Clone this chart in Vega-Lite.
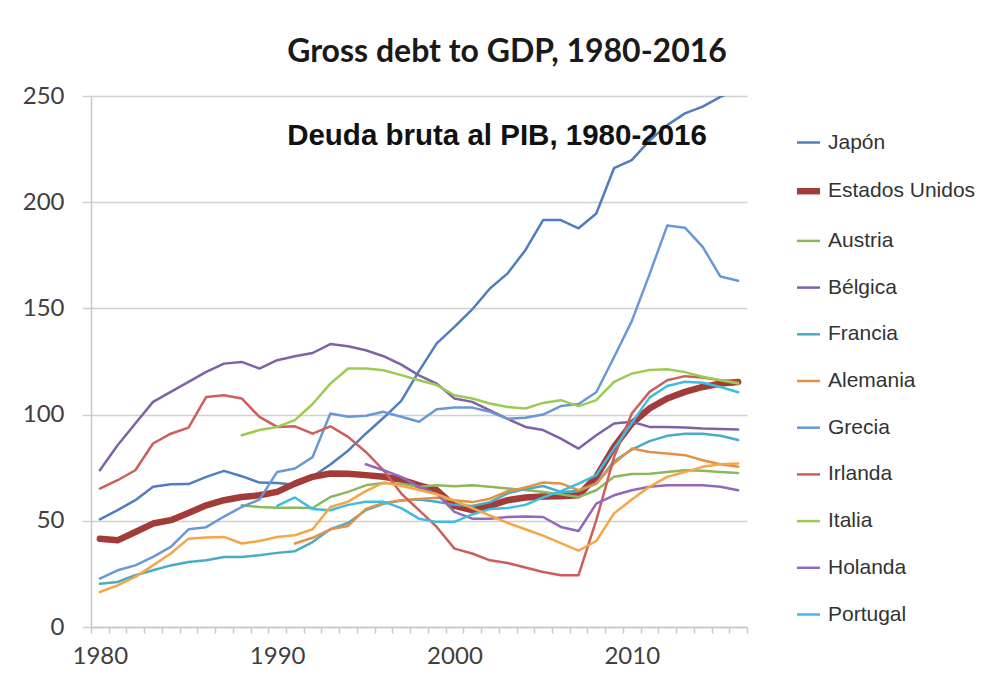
{
 "$schema": "https://vega.github.io/schema/vega-lite/v6.json",
 "width": 656,
 "height": 531,
 "padding": {"left": 22, "top": 36, "right": 0, "bottom": 0},
 "background": "white",
 "title": {"text": "Gross debt to GDP, 1980-2016", "anchor": "middle", "frame": "group", "dx": 88, "offset": -10, "baseline": "alphabetic", "font": "Lato", "fontSize": 32, "fontWeight": "bold", "color": "#1a1a1a"},
 "config": {"view": {"stroke": null}},
 "resolve": {"axis": {"x": "independent"}},
 "layer": [
  {
   "data": {"values": [
{"country":"Japón","year":1980,"debt":50.7},{"country":"Japón","year":1981,"debt":55},{"country":"Japón","year":1982,"debt":59.7},{"country":"Japón","year":1983,"debt":66},{"country":"Japón","year":1984,"debt":67.2},{"country":"Japón","year":1985,"debt":67.3},{"country":"Japón","year":1986,"debt":70.7},{"country":"Japón","year":1987,"debt":73.5},{"country":"Japón","year":1988,"debt":71},{"country":"Japón","year":1989,"debt":68},{"country":"Japón","year":1990,"debt":67.8},{"country":"Japón","year":1991,"debt":67},{"country":"Japón","year":1992,"debt":70.8},{"country":"Japón","year":1993,"debt":76.5},{"country":"Japón","year":1994,"debt":83},{"country":"Japón","year":1995,"debt":91},{"country":"Japón","year":1996,"debt":98.5},{"country":"Japón","year":1997,"debt":106.5},{"country":"Japón","year":1998,"debt":120.5},{"country":"Japón","year":1999,"debt":133.5},{"country":"Japón","year":2000,"debt":141.3},{"country":"Japón","year":2001,"debt":149.5},{"country":"Japón","year":2002,"debt":159.4},{"country":"Japón","year":2003,"debt":166.5},{"country":"Japón","year":2004,"debt":177.4},{"country":"Japón","year":2005,"debt":191.6},{"country":"Japón","year":2006,"debt":191.6},{"country":"Japón","year":2007,"debt":187.7},{"country":"Japón","year":2008,"debt":194.7},{"country":"Japón","year":2009,"debt":216},{"country":"Japón","year":2010,"debt":219.8},{"country":"Japón","year":2011,"debt":229},{"country":"Japón","year":2012,"debt":236.3},{"country":"Japón","year":2013,"debt":241.8},{"country":"Japón","year":2014,"debt":245},{"country":"Japón","year":2015,"debt":249.6},{"country":"Japón","year":2016,"debt":253},
{"country":"Estados Unidos","year":1980,"debt":41.6},{"country":"Estados Unidos","year":1981,"debt":40.8},{"country":"Estados Unidos","year":1982,"debt":44.7},{"country":"Estados Unidos","year":1983,"debt":48.7},{"country":"Estados Unidos","year":1984,"debt":50.3},{"country":"Estados Unidos","year":1985,"debt":53.7},{"country":"Estados Unidos","year":1986,"debt":57.3},{"country":"Estados Unidos","year":1987,"debt":59.7},{"country":"Estados Unidos","year":1988,"debt":61.2},{"country":"Estados Unidos","year":1989,"debt":62},{"country":"Estados Unidos","year":1990,"debt":63.6},{"country":"Estados Unidos","year":1991,"debt":67.5},{"country":"Estados Unidos","year":1992,"debt":70.7},{"country":"Estados Unidos","year":1993,"debt":72.3},{"country":"Estados Unidos","year":1994,"debt":72.2},{"country":"Estados Unidos","year":1995,"debt":71.5},{"country":"Estados Unidos","year":1996,"debt":70.7},{"country":"Estados Unidos","year":1997,"debt":69.4},{"country":"Estados Unidos","year":1998,"debt":66.7},{"country":"Estados Unidos","year":1999,"debt":64.4},{"country":"Estados Unidos","year":2000,"debt":57},{"country":"Estados Unidos","year":2001,"debt":55},{"country":"Estados Unidos","year":2002,"debt":57},{"country":"Estados Unidos","year":2003,"debt":59.7},{"country":"Estados Unidos","year":2004,"debt":61},{"country":"Estados Unidos","year":2005,"debt":61.4},{"country":"Estados Unidos","year":2006,"debt":61.5},{"country":"Estados Unidos","year":2007,"debt":62},{"country":"Estados Unidos","year":2008,"debt":70.7},{"country":"Estados Unidos","year":2009,"debt":84.8},{"country":"Estados Unidos","year":2010,"debt":95.8},{"country":"Estados Unidos","year":2011,"debt":102.9},{"country":"Estados Unidos","year":2012,"debt":107.6},{"country":"Estados Unidos","year":2013,"debt":110.7},{"country":"Estados Unidos","year":2014,"debt":113},{"country":"Estados Unidos","year":2015,"debt":114.6},{"country":"Estados Unidos","year":2016,"debt":115.4},
{"country":"Austria","year":1988,"debt":57.3},{"country":"Austria","year":1989,"debt":56.5},{"country":"Austria","year":1990,"debt":56.2},{"country":"Austria","year":1991,"debt":56.2},{"country":"Austria","year":1992,"debt":56},{"country":"Austria","year":1993,"debt":61.2},{"country":"Austria","year":1994,"debt":63.6},{"country":"Austria","year":1995,"debt":66.7},{"country":"Austria","year":1996,"debt":67.8},{"country":"Austria","year":1997,"debt":67.5},{"country":"Austria","year":1998,"debt":66},{"country":"Austria","year":1999,"debt":66.7},{"country":"Austria","year":2000,"debt":66.3},{"country":"Austria","year":2001,"debt":66.7},{"country":"Austria","year":2002,"debt":66},{"country":"Austria","year":2003,"debt":65.2},{"country":"Austria","year":2004,"debt":64.5},{"country":"Austria","year":2005,"debt":63.6},{"country":"Austria","year":2006,"debt":62.5},{"country":"Austria","year":2007,"debt":61.2},{"country":"Austria","year":2008,"debt":64.4},{"country":"Austria","year":2009,"debt":70.7},{"country":"Austria","year":2010,"debt":72},{"country":"Austria","year":2011,"debt":72.2},{"country":"Austria","year":2012,"debt":73},{"country":"Austria","year":2013,"debt":73.8},{"country":"Austria","year":2014,"debt":73.6},{"country":"Austria","year":2015,"debt":73},{"country":"Austria","year":2016,"debt":72.5},
{"country":"Bélgica","year":1980,"debt":73.8},{"country":"Bélgica","year":1981,"debt":85.6},{"country":"Bélgica","year":1982,"debt":95.8},{"country":"Bélgica","year":1983,"debt":106},{"country":"Bélgica","year":1984,"debt":110.7},{"country":"Bélgica","year":1985,"debt":115.4},{"country":"Bélgica","year":1986,"debt":120.1},{"country":"Bélgica","year":1987,"debt":124},{"country":"Bélgica","year":1988,"debt":124.8},{"country":"Bélgica","year":1989,"debt":121.7},{"country":"Bélgica","year":1990,"debt":125.6},{"country":"Bélgica","year":1991,"debt":127.5},{"country":"Bélgica","year":1992,"debt":129},{"country":"Bélgica","year":1993,"debt":133.2},{"country":"Bélgica","year":1994,"debt":132.2},{"country":"Bélgica","year":1995,"debt":130.3},{"country":"Bélgica","year":1996,"debt":127.5},{"country":"Bélgica","year":1997,"debt":123.5},{"country":"Bélgica","year":1998,"debt":118.5},{"country":"Bélgica","year":1999,"debt":114.6},{"country":"Bélgica","year":2000,"debt":107.6},{"country":"Bélgica","year":2001,"debt":106},{"country":"Bélgica","year":2002,"debt":102},{"country":"Bélgica","year":2003,"debt":98},{"country":"Bélgica","year":2004,"debt":94.2},{"country":"Bélgica","year":2005,"debt":92.7},{"country":"Bélgica","year":2006,"debt":88.7},{"country":"Bélgica","year":2007,"debt":84},{"country":"Bélgica","year":2008,"debt":90.3},{"country":"Bélgica","year":2009,"debt":95.8},{"country":"Bélgica","year":2010,"debt":96.6},{"country":"Bélgica","year":2011,"debt":94.2},{"country":"Bélgica","year":2012,"debt":94.2},{"country":"Bélgica","year":2013,"debt":93.9},{"country":"Bélgica","year":2014,"debt":93.4},{"country":"Bélgica","year":2015,"debt":93.2},{"country":"Bélgica","year":2016,"debt":93},
{"country":"Francia","year":1980,"debt":20.4},{"country":"Francia","year":1981,"debt":21.2},{"country":"Francia","year":1982,"debt":24.4},{"country":"Francia","year":1983,"debt":26.7},{"country":"Francia","year":1984,"debt":29},{"country":"Francia","year":1985,"debt":30.6},{"country":"Francia","year":1986,"debt":31.4},{"country":"Francia","year":1987,"debt":33},{"country":"Francia","year":1988,"debt":33},{"country":"Francia","year":1989,"debt":33.8},{"country":"Francia","year":1990,"debt":34.9},{"country":"Francia","year":1991,"debt":35.7},{"country":"Francia","year":1992,"debt":40},{"country":"Francia","year":1993,"debt":46},{"country":"Francia","year":1994,"debt":49},{"country":"Francia","year":1995,"debt":55},{"country":"Francia","year":1996,"debt":58},{"country":"Francia","year":1997,"debt":59.5},{"country":"Francia","year":1998,"debt":60},{"country":"Francia","year":1999,"debt":59},{"country":"Francia","year":2000,"debt":57.5},{"country":"Francia","year":2001,"debt":57},{"country":"Francia","year":2002,"debt":58.8},{"country":"Francia","year":2003,"debt":62.9},{"country":"Francia","year":2004,"debt":64.9},{"country":"Francia","year":2005,"debt":66.4},{"country":"Francia","year":2006,"debt":63.6},{"country":"Francia","year":2007,"debt":64},{"country":"Francia","year":2008,"debt":67.5},{"country":"Francia","year":2009,"debt":78},{"country":"Francia","year":2010,"debt":83.5},{"country":"Francia","year":2011,"debt":87.5},{"country":"Francia","year":2012,"debt":90},{"country":"Francia","year":2013,"debt":91},{"country":"Francia","year":2014,"debt":91},{"country":"Francia","year":2015,"debt":90},{"country":"Francia","year":2016,"debt":88},
{"country":"Alemania","year":1991,"debt":39.3},{"country":"Alemania","year":1992,"debt":42},{"country":"Alemania","year":1993,"debt":46},{"country":"Alemania","year":1994,"debt":47.6},{"country":"Alemania","year":1995,"debt":55.6},{"country":"Alemania","year":1996,"debt":58.4},{"country":"Alemania","year":1997,"debt":59.7},{"country":"Alemania","year":1998,"debt":60.3},{"country":"Alemania","year":1999,"debt":60.9},{"country":"Alemania","year":2000,"debt":59.7},{"country":"Alemania","year":2001,"debt":58.8},{"country":"Alemania","year":2002,"debt":60.4},{"country":"Alemania","year":2003,"debt":63.9},{"country":"Alemania","year":2004,"debt":65.7},{"country":"Alemania","year":2005,"debt":68},{"country":"Alemania","year":2006,"debt":67.6},{"country":"Alemania","year":2007,"debt":64.4},{"country":"Alemania","year":2008,"debt":67.5},{"country":"Alemania","year":2009,"debt":77},{"country":"Alemania","year":2010,"debt":84},{"country":"Alemania","year":2011,"debt":82.4},{"country":"Alemania","year":2012,"debt":81.7},{"country":"Alemania","year":2013,"debt":80.9},{"country":"Alemania","year":2014,"debt":78.5},{"country":"Alemania","year":2015,"debt":76.6},{"country":"Alemania","year":2016,"debt":75.4},
{"country":"Grecia","year":1980,"debt":22.8},{"country":"Grecia","year":1981,"debt":26.7},{"country":"Grecia","year":1982,"debt":29},{"country":"Grecia","year":1983,"debt":33},{"country":"Grecia","year":1984,"debt":37.7},{"country":"Grecia","year":1985,"debt":46},{"country":"Grecia","year":1986,"debt":47},{"country":"Grecia","year":1987,"debt":52},{"country":"Grecia","year":1988,"debt":56.5},{"country":"Grecia","year":1989,"debt":60},{"country":"Grecia","year":1990,"debt":73},{"country":"Grecia","year":1991,"debt":74.6},{"country":"Grecia","year":1992,"debt":80},{"country":"Grecia","year":1993,"debt":100.5},{"country":"Grecia","year":1994,"debt":99},{"country":"Grecia","year":1995,"debt":99.5},{"country":"Grecia","year":1996,"debt":101.3},{"country":"Grecia","year":1997,"debt":99},{"country":"Grecia","year":1998,"debt":96.6},{"country":"Grecia","year":1999,"debt":102.5},{"country":"Grecia","year":2000,"debt":103.3},{"country":"Grecia","year":2001,"debt":103.3},{"country":"Grecia","year":2002,"debt":101.3},{"country":"Grecia","year":2003,"debt":98},{"country":"Grecia","year":2004,"debt":98.5},{"country":"Grecia","year":2005,"debt":100},{"country":"Grecia","year":2006,"debt":104},{"country":"Grecia","year":2007,"debt":105},{"country":"Grecia","year":2008,"debt":110.5},{"country":"Grecia","year":2009,"debt":127},{"country":"Grecia","year":2010,"debt":144},{"country":"Grecia","year":2011,"debt":166},{"country":"Grecia","year":2012,"debt":189},{"country":"Grecia","year":2013,"debt":188},{"country":"Grecia","year":2014,"debt":179},{"country":"Grecia","year":2015,"debt":165},{"country":"Grecia","year":2016,"debt":163},
{"country":"Irlanda","year":1980,"debt":65.2},{"country":"Irlanda","year":1981,"debt":69.1},{"country":"Irlanda","year":1982,"debt":73.8},{"country":"Irlanda","year":1983,"debt":86.4},{"country":"Irlanda","year":1984,"debt":91},{"country":"Irlanda","year":1985,"debt":93.9},{"country":"Irlanda","year":1986,"debt":108.3},{"country":"Irlanda","year":1987,"debt":109.1},{"country":"Irlanda","year":1988,"debt":107.6},{"country":"Irlanda","year":1989,"debt":98.9},{"country":"Irlanda","year":1990,"debt":94.2},{"country":"Irlanda","year":1991,"debt":94.5},{"country":"Irlanda","year":1992,"debt":91},{"country":"Irlanda","year":1993,"debt":94.5},{"country":"Irlanda","year":1994,"debt":89.5},{"country":"Irlanda","year":1995,"debt":82.4},{"country":"Irlanda","year":1996,"debt":73.8},{"country":"Irlanda","year":1997,"debt":62.8},{"country":"Irlanda","year":1998,"debt":55},{"country":"Irlanda","year":1999,"debt":47.1},{"country":"Irlanda","year":2000,"debt":36.9},{"country":"Irlanda","year":2001,"debt":34.6},{"country":"Irlanda","year":2002,"debt":31.4},{"country":"Irlanda","year":2003,"debt":30.1},{"country":"Irlanda","year":2004,"debt":28},{"country":"Irlanda","year":2005,"debt":25.9},{"country":"Irlanda","year":2006,"debt":24.4},{"country":"Irlanda","year":2007,"debt":24.4},{"country":"Irlanda","year":2008,"debt":50.3},{"country":"Irlanda","year":2009,"debt":80},{"country":"Irlanda","year":2010,"debt":100.5},{"country":"Irlanda","year":2011,"debt":110.7},{"country":"Irlanda","year":2012,"debt":116.2},{"country":"Irlanda","year":2013,"debt":118.1},{"country":"Irlanda","year":2014,"debt":117.5},{"country":"Irlanda","year":2015,"debt":116.2},{"country":"Irlanda","year":2016,"debt":115.4},
{"country":"Italia","year":1988,"debt":90.3},{"country":"Italia","year":1989,"debt":92.7},{"country":"Italia","year":1990,"debt":94.2},{"country":"Italia","year":1991,"debt":97.4},{"country":"Italia","year":1992,"debt":105},{"country":"Italia","year":1993,"debt":114.6},{"country":"Italia","year":1994,"debt":121.7},{"country":"Italia","year":1995,"debt":121.7},{"country":"Italia","year":1996,"debt":120.9},{"country":"Italia","year":1997,"debt":118.6},{"country":"Italia","year":1998,"debt":116.2},{"country":"Italia","year":1999,"debt":113.9},{"country":"Italia","year":2000,"debt":109.1},{"country":"Italia","year":2001,"debt":107.6},{"country":"Italia","year":2002,"debt":105.2},{"country":"Italia","year":2003,"debt":103.6},{"country":"Italia","year":2004,"debt":102.9},{"country":"Italia","year":2005,"debt":105.5},{"country":"Italia","year":2006,"debt":106.8},{"country":"Italia","year":2007,"debt":104},{"country":"Italia","year":2008,"debt":106.8},{"country":"Italia","year":2009,"debt":115.4},{"country":"Italia","year":2010,"debt":119.3},{"country":"Italia","year":2011,"debt":121},{"country":"Italia","year":2012,"debt":121.4},{"country":"Italia","year":2013,"debt":120},{"country":"Italia","year":2014,"debt":117.8},{"country":"Italia","year":2015,"debt":116.2},{"country":"Italia","year":2016,"debt":114.6},
{"country":"Holanda","year":1995,"debt":76.6},{"country":"Holanda","year":1996,"debt":73.8},{"country":"Holanda","year":1997,"debt":70.7},{"country":"Holanda","year":1998,"debt":66},{"country":"Holanda","year":1999,"debt":62.8},{"country":"Holanda","year":2000,"debt":54.2},{"country":"Holanda","year":2001,"debt":51},{"country":"Holanda","year":2002,"debt":51},{"country":"Holanda","year":2003,"debt":51.8},{"country":"Holanda","year":2004,"debt":52},{"country":"Holanda","year":2005,"debt":51.8},{"country":"Holanda","year":2006,"debt":47.1},{"country":"Holanda","year":2007,"debt":45.2},{"country":"Holanda","year":2008,"debt":58.1},{"country":"Holanda","year":2009,"debt":62},{"country":"Holanda","year":2010,"debt":64.4},{"country":"Holanda","year":2011,"debt":66},{"country":"Holanda","year":2012,"debt":66.7},{"country":"Holanda","year":2013,"debt":66.7},{"country":"Holanda","year":2014,"debt":66.7},{"country":"Holanda","year":2015,"debt":66},{"country":"Holanda","year":2016,"debt":64.4},
{"country":"Portugal","year":1990,"debt":57},{"country":"Portugal","year":1991,"debt":61},{"country":"Portugal","year":1992,"debt":55.5},{"country":"Portugal","year":1993,"debt":55},{"country":"Portugal","year":1994,"debt":57.5},{"country":"Portugal","year":1995,"debt":59},{"country":"Portugal","year":1996,"debt":59},{"country":"Portugal","year":1997,"debt":56},{"country":"Portugal","year":1998,"debt":51},{"country":"Portugal","year":1999,"debt":49.5},{"country":"Portugal","year":2000,"debt":49.5},{"country":"Portugal","year":2001,"debt":53},{"country":"Portugal","year":2002,"debt":55.5},{"country":"Portugal","year":2003,"debt":56},{"country":"Portugal","year":2004,"debt":57.5},{"country":"Portugal","year":2005,"debt":61},{"country":"Portugal","year":2006,"debt":64},{"country":"Portugal","year":2007,"debt":67.5},{"country":"Portugal","year":2008,"debt":71.5},{"country":"Portugal","year":2009,"debt":84},{"country":"Portugal","year":2010,"debt":96},{"country":"Portugal","year":2011,"debt":108},{"country":"Portugal","year":2012,"debt":113.5},{"country":"Portugal","year":2013,"debt":115.5},{"country":"Portugal","year":2014,"debt":115},{"country":"Portugal","year":2015,"debt":113},{"country":"Portugal","year":2016,"debt":110.5},
{"country":"España","year":1980,"debt":16.5},{"country":"España","year":1981,"debt":19.6},{"country":"España","year":1982,"debt":23.6},{"country":"España","year":1983,"debt":29},{"country":"España","year":1984,"debt":34.6},{"country":"España","year":1985,"debt":41.6},{"country":"España","year":1986,"debt":42.1},{"country":"España","year":1987,"debt":42.4},{"country":"España","year":1988,"debt":39.3},{"country":"España","year":1989,"debt":40.5},{"country":"España","year":1990,"debt":42.4},{"country":"España","year":1991,"debt":43.2},{"country":"España","year":1992,"debt":46},{"country":"España","year":1993,"debt":56.5},{"country":"España","year":1994,"debt":59},{"country":"España","year":1995,"debt":64},{"country":"España","year":1996,"debt":68},{"country":"España","year":1997,"debt":66.5},{"country":"España","year":1998,"debt":64.5},{"country":"España","year":1999,"debt":62.5},{"country":"España","year":2000,"debt":59.5},{"country":"España","year":2001,"debt":56},{"country":"España","year":2002,"debt":52.5},{"country":"España","year":2003,"debt":49},{"country":"España","year":2004,"debt":46},{"country":"España","year":2005,"debt":43},{"country":"España","year":2006,"debt":39.5},{"country":"España","year":2007,"debt":36},{"country":"España","year":2008,"debt":40.5},{"country":"España","year":2009,"debt":53.5},{"country":"España","year":2010,"debt":60},{"country":"España","year":2011,"debt":66},{"country":"España","year":2012,"debt":70.7},{"country":"España","year":2013,"debt":73},{"country":"España","year":2014,"debt":75.4},{"country":"España","year":2015,"debt":76.6},{"country":"España","year":2016,"debt":77}
   ]},
   "mark": {"type": "line", "clip": true, "strokeJoin": "round", "strokeCap": "round"},
   "encoding": {
    "x": {"field": "year", "type": "quantitative",
     "scale": {"domain": [1979.5, 2016.5], "nice": false, "zero": false},
     "axis": {"orient": "bottom", "title": null, "grid": false, "labels": false,
      "values": [1979.5,1980.5,1981.5,1982.5,1983.5,1984.5,1985.5,1986.5,1987.5,1988.5,1989.5,1990.5,1991.5,1992.5,1993.5,1994.5,1995.5,1996.5,1997.5,1998.5,1999.5,2000.5,2001.5,2002.5,2003.5,2004.5,2005.5,2006.5,2007.5,2008.5,2009.5,2010.5,2011.5,2012.5,2013.5,2014.5,2015.5,2016.5],
      "tickSize": 6, "tickColor": "#c8c8c8", "tickWidth": 1.5,
      "domainColor": "#c8c8c8", "domainWidth": 1.5}},
    "y": {"field": "debt", "type": "quantitative",
     "scale": {"domain": [0, 250], "nice": false},
     "axis": {"title": null, "values": [0, 50, 100, 150, 200, 250], "grid": true,
      "gridColor": "#d0d0d0", "gridWidth": 1.5,
      "tickSize": 9, "tickColor": "#d0d0d0", "tickWidth": 1.5,
      "domainColor": "#c8c8c8", "domainWidth": 1.5,
      "labelPadding": 18, "labelFont": "Lato", "labelFontSize": 24, "labelColor": "#404040"}},
    "color": {"field": "country", "type": "nominal",
     "scale": {"domain": ["Japón","Estados Unidos","Austria","Bélgica","Francia","Alemania","Grecia","Irlanda","Italia","Holanda","Portugal","España"],
      "range": ["#4F7DBE","#A33B38","#8DB85A","#7F62A6","#49ABC5","#E39245","#6A98D6","#CE5E5B","#9CCB52","#9168BE","#3EBDE3","#F6A647"]},
     "legend": {"values": ["Japón","Estados Unidos","Austria","Bélgica","Francia","Alemania","Grecia","Irlanda","Italia","Holanda","Portugal"],
      "title": null, "orient": "right", "offset": 15, "padding": 36,
      "symbolType": "stroke", "symbolSize": 529, "symbolStrokeWidth": 2.5, "labelFont": "Liberation Sans", "labelFontSize": 21,
      "labelColor": "#333333", "rowPadding": 24.7, "labelOffset": 9, "labelLimit": 300,
      "encode": {"symbols": {"update": {"strokeWidth": {"signal": "datum.value === 'Estados Unidos' ? 6.5 : 2.5"}}}}}},
    "strokeWidth": {"condition": {"test": "datum.country === 'Estados Unidos'", "value": 6.5}, "value": 2.5}
   }
  },
  {
   "data": {"values": [{"label": "Deuda bruta al PIB, 1980-2016"}]},
   "mark": {"type": "text", "font": "Liberation Sans", "fontWeight": "bold", "fontSize": 29.5, "color": "#111111", "align": "center", "baseline": "alphabetic"},
   "encoding": {
    "text": {"field": "label"},
    "x": {"datum": 2002.4, "type": "quantitative",
     "axis": {"orient": "bottom", "title": null, "grid": false, "domain": false, "ticks": false,
      "values": [1980, 1990, 2000, 2010], "format": "d",
      "labelPadding": 17, "labelFont": "Lato", "labelFontSize": 24, "labelColor": "#404040"}},
    "y": {"datum": 227}
   }
  }
 ]
}
